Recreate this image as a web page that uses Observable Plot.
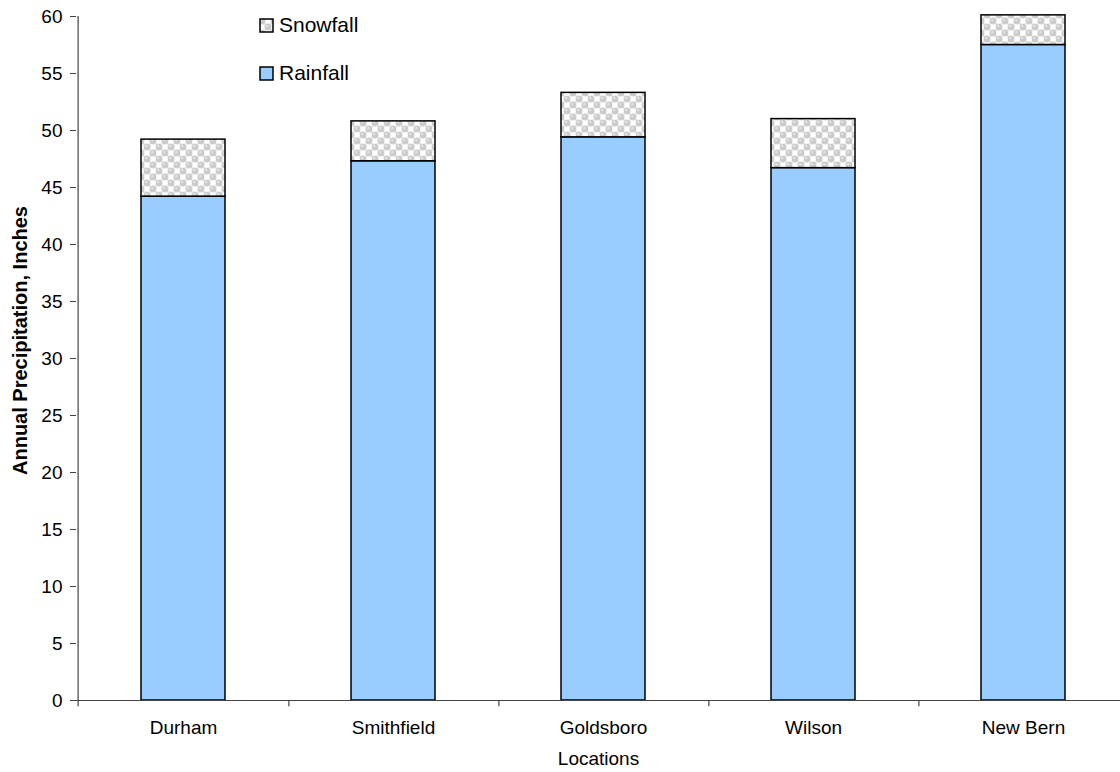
<!DOCTYPE html>
<html>
<head>
<meta charset="utf-8">
<script src="https://cdn.jsdelivr.net/npm/d3@7"></script>
<script src="https://cdn.jsdelivr.net/npm/@observablehq/plot@0.6"></script>
<style>
  html, body { margin: 0; padding: 0; background: #fff; overflow: hidden; }
  #wrap { position: relative; width: 1120px; height: 772px; font-family: "Liberation Sans", Arial, sans-serif; }
  #legend { position: absolute; left: 259px; top: 14px; font-size: 21px; color: #000; }
  #legend .item { display: flex; align-items: center; height: 22px; margin-bottom: 26px; }
  #legend svg { margin-right: 5px; }
</style>
</head>
<body>
<div id="wrap"></div>
<script>
const locations = ["Durham", "Smithfield", "Goldsboro", "Wilson", "New Bern"];
const rainfall = [44.2, 47.3, 49.4, 46.7, 57.5];
const snowfall = [5.0, 3.5, 3.9, 4.3, 2.6];
const yTicks = [0, 5, 10, 15, 20, 25, 30, 35, 40, 45, 50, 55, 60];
const seriesNames = ["Snowfall", "Rainfall"];
const rainColor = "#99ccff";

const rows = locations.map((loc, i) => ({
  location: loc,
  rain: rainfall[i],
  snow: snowfall[i],
  total: rainfall[i] + snowfall[i]
}));

const xRange = [75.6, 1129.4];
const halfStep = (xRange[1] - xRange[0]) / locations.length / 2;

const chart = Plot.plot({
  width: 1120,
  height: 772,
  marginLeft: 76,
  marginRight: 0,
  marginTop: 16,
  marginBottom: 72,
  style: { fontFamily: "'Liberation Sans', Arial, sans-serif", background: "#fff", overflow: "visible" },
  x: { domain: locations, range: xRange, paddingInner: 0.6, paddingOuter: 0.3 },
  y: { domain: [0, 60] },
  marks: [
    Plot.barY(rows, { x: "location", y1: 0, y2: "rain", fill: rainColor, stroke: "#000", strokeWidth: 1.5 }),
    Plot.barY(rows, { x: "location", y1: "rain", y2: "total", fill: "url(#snowPattern)", stroke: "#000", strokeWidth: 1.5 }),
    Plot.ruleY([0], { stroke: "#444", strokeWidth: 1.2 }),
    Plot.ruleX([locations[0]], { x: d => d, dx: -halfStep, y1: -0.55, y2: 60, stroke: "#444", strokeWidth: 1.2 }),
    Plot.ruleX(locations, { x: d => d, dx: halfStep, y1: 0, y2: -0.55, stroke: "#444", strokeWidth: 1.2 }),
    Plot.axisY({ ticks: yTicks, tickSize: 6, tickPadding: 8, fontSize: 19, label: null, stroke: "#444" }),
    Plot.axisX({ tickSize: 0, tickPadding: 20, fontSize: 19, label: null }),
    Plot.text(["Locations"], { frameAnchor: "bottom", dy: 64, fontSize: 19, fill: "#000" }),
    Plot.text(["Annual Precipitation, Inches"], { frameAnchor: "left", textAnchor: "middle", rotate: -90, dx: -56, dy: -18, fontSize: 20, fontWeight: "bold", fill: "#000" })
  ]
});

// pattern definition for snowfall fill
const ns = "http://www.w3.org/2000/svg";
function makeDefs() {
  const defs = document.createElementNS(ns, "defs");
  defs.innerHTML = `
    <pattern id="snowPattern" width="12" height="12" patternUnits="userSpaceOnUse">
      <rect width="12" height="12" fill="#e4e4e4"/>
      <rect x="6.5" y="0.5" width="5" height="5" fill="#ffffff"/>
      <rect x="0.5" y="6.5" width="5" height="5" fill="#ffffff"/>
      <circle cx="3" cy="3" r="3.2" fill="#cbcbcb"/>
      <circle cx="9" cy="9" r="3.2" fill="#cbcbcb"/>
      <circle cx="2.2" cy="2.1" r="1.1" fill="#e8e8e8"/>
      <circle cx="8.2" cy="8.1" r="1.1" fill="#e8e8e8"/>
    </pattern>`;
  return defs;
}
chart.insertBefore(makeDefs(), chart.firstChild);

const wrap = document.getElementById("wrap");
wrap.appendChild(chart);

// legend
const legend = document.createElement("div");
legend.id = "legend";
seriesNames.forEach(name => {
  const item = document.createElement("div");
  item.className = "item";
  const sw = document.createElementNS(ns, "svg");
  sw.setAttribute("width", "15");
  sw.setAttribute("height", "15");
  const r = document.createElementNS(ns, "rect");
  r.setAttribute("x", "1"); r.setAttribute("y", "1");
  r.setAttribute("width", "13"); r.setAttribute("height", "13");
  r.setAttribute("fill", name === "Rainfall" ? rainColor : "url(#snowPattern)");
  r.setAttribute("stroke", "#000"); r.setAttribute("stroke-width", "1.5");
  sw.appendChild(r);
  item.appendChild(sw);
  const t = document.createElement("span");
  t.textContent = name;
  item.appendChild(t);
  legend.appendChild(item);
});
wrap.appendChild(legend);
</script>
</body>
</html>
